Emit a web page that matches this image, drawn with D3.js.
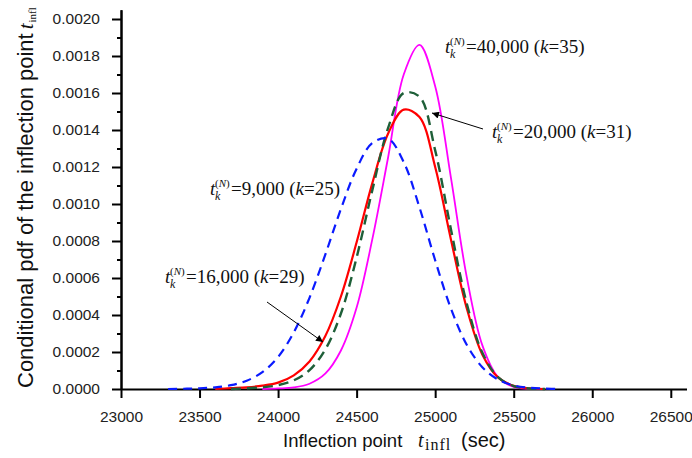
<!DOCTYPE html>
<html>
<head>
<meta charset="utf-8">
<script src="https://cdn.jsdelivr.net/npm/d3@7"></script>
<style>
  body { margin: 0; background: #fff; }
  svg { display: block; }
</style>
</head>
<body>
<div id="chart"></div>
<script>
// inflection point pdfs
const xVals = [23300, 23400, 23500, 23600, 23700, 23800, 23900, 24000, 24100, 24200,
               24300, 24400, 24500, 24600, 24700, 24800, 24900, 25000, 25100, 25200,
               25300, 25400, 25500, 25600, 25700, 25800];
const pdf9000  = [0, 0.0000014, 0.0000037, 0.000009, 0.0000206, 0.0000448, 0.000091, 0.000173, 0.000306, 0.000493,
                  0.000725, 0.000973, 0.001191, 0.00133, 0.001353, 0.001226, 0.000982, 0.000696, 0.000436, 0.000241,
                  0.000118, 0.000051, 0.0000196, 0.0000066, 0.000002, 0];
const pdf16000 = [0, 0, 0, 0, 0.0000045, 0.000009, 0.0000178, 0.0000347, 0.000074, 0.000149,
                  0.000285, 0.0005, 0.000793, 0.001113, 0.00138, 0.00151, 0.00147, 0.0012, 0.00081, 0.00044,
                  0.000187, 0.000063, 0.000017, 0.0000035, 0, 0];
const pdf20000 = [0, 0, 0, 0, 0, 0.000004, 0.0000091, 0.000021, 0.000047, 0.000102,
                  0.000213, 0.000408, 0.000711, 0.001075, 0.00141, 0.0016, 0.00158, 0.00129, 0.000865, 0.000466,
                  0.000197, 0.000064, 0.000016, 0.000003, 0, 0];
const pdf40000 = [0, 0, 0, 0, 0, 0, 0, 0.000003, 0.0000086, 0.0000285,
                  0.0000826, 0.000208, 0.00044, 0.00081, 0.00125, 0.0017, 0.00186, 0.001637, 0.001144, 0.00061,
                  0.000237, 0.000064, 0.0000115, 0.000001, 0, 0];
const xTicks = [23000, 23500, 24000, 24500, 25000, 25500, 26000, 26500];
const yTicks = [0, 0.0002, 0.0004, 0.0006, 0.0008, 0.0010, 0.0012, 0.0014, 0.0016, 0.0018, 0.0020];

const W = 692, H = 458;
const margin = {top: 10, right: 5, bottom: 69, left: 121};

const svg = d3.select("#chart").append("svg")
    .attr("width", W)
    .attr("height", H);

const x = d3.scaleLinear().domain([23000, 26600]).range([margin.left, 686.5]);
const y = d3.scaleLinear().domain([0, 0.00205]).range([389, 389 - 0.00205 * 185000]);

// axes
const xAxis = svg.append("g")
    .attr("transform", "translate(0,389)")
    .call(d3.axisBottom(x).tickValues(xTicks).tickFormat(d3.format("d")).tickSize(9).tickSizeOuter(0).tickPadding(12));
const yMinor = svg.append("g")
    .attr("transform", "translate(" + margin.left + ",0)")
    .call(d3.axisLeft(y).tickValues(d3.range(0.0001, 0.0020, 0.0002)).tickSize(4).tickSizeOuter(0).tickFormat(""));
const yAxis = svg.append("g")
    .attr("transform", "translate(" + margin.left + ",0)")
    .call(d3.axisLeft(y).tickValues(yTicks).tickFormat(d3.format(".4f")).tickSize(9).tickSizeOuter(0).tickPadding(12));

[xAxis, yAxis, yMinor].forEach(g => {
  g.select(".domain").attr("stroke", "#000").attr("stroke-width", 2);
  g.selectAll(".tick line").attr("stroke", "#000").attr("stroke-width", 2);
  g.selectAll(".tick text")
    .attr("fill", "#222")
    .style("font-family", "'Liberation Sans', Arial, sans-serif")
    .style("font-size", "15.5px");
});
xAxis.selectAll(".tick text").attr("dy", "0.75em");

// curves
function trimmed(arr) {
  // drop the flat zero run at both ends so the curve starts where it rises
  let first = arr.findIndex(v => v > 0);
  let last = arr.length - 1 - [...arr].reverse().findIndex(v => v > 0);
  return arr.map((v, i) => (i >= first - 1 && i <= last + 1) ? v : null);
}
const line = d3.line()
    .defined(d => d !== null)
    .x((d, i) => x(xVals[i]))
    .y(d => y(Math.max(0, d)))
    .curve(d3.curveCatmullRom.alpha(0.5));

svg.append("path").datum(trimmed(pdf40000))
    .attr("d", line).attr("fill", "none")
    .attr("stroke", "#ff00ff").attr("stroke-width", 1.8);
svg.append("path").datum(trimmed(pdf16000))
    .attr("d", line).attr("fill", "none")
    .attr("stroke", "#ff0000").attr("stroke-width", 2.2);
svg.append("path").datum(trimmed(pdf20000))
    .attr("d", line).attr("fill", "none")
    .attr("stroke", "#1e5f38").attr("stroke-width", 2.4)
    .attr("stroke-dasharray", "10,6");
svg.append("path").datum(trimmed(pdf9000))
    .attr("d", line).attr("fill", "none")
    .attr("stroke", "#0a1aff").attr("stroke-width", 2.2)
    .attr("stroke-dasharray", "9,6");

// axis titles
const sans = "'Liberation Sans', Arial, sans-serif";
const serif = "'Liberation Serif', 'Times New Roman', serif";

const xt = svg.append("g").attr("fill", "#111");
xt.append("text").attr("x", 283).attr("y", 447)
    .style("font-family", sans).style("font-size", "18.5px").text("Inflection point");
xt.append("text").attr("x", 418).attr("y", 447)
    .style("font-family", serif).style("font-style", "italic").style("font-size", "20px").text("t");
xt.append("text").attr("x", 425).attr("y", 450)
    .style("font-family", serif).style("font-size", "16px").style("letter-spacing", "1px").text("infl");
xt.append("text").attr("x", 461).attr("y", 447)
    .style("font-family", sans).style("font-size", "20px").text("(sec)");

const yTitle = svg.append("text")
    .attr("transform", "translate(33,388) rotate(-90)")
    .style("font-family", sans).style("font-size", "22px").attr("fill", "#111");
yTitle.append("tspan").text("Conditional pdf of the inflection point");
yTitle.append("tspan").text("t").attr("dx", 4).style("font-family", serif).style("font-style", "italic").style("font-size", "21px");
yTitle.append("tspan").text("infl").style("font-family", serif).style("font-size", "11px").attr("dx", 1).attr("dy", 3);

// annotations
function note(x0, y0, num, k) {
  const g = svg.append("g").style("font-family", serif).attr("fill", "#111");
  g.append("text").attr("x", x0).attr("y", y0).style("font-size", "19px").style("font-style", "italic").text("t");
  g.append("text").attr("x", x0 + 5).attr("y", y0 + 5).style("font-size", "12px").style("font-style", "italic").text("k");
  const sup = g.append("text").attr("x", x0 + 5).attr("y", y0 - 8).style("font-size", "11px");
  sup.append("tspan").text("(");
  sup.append("tspan").text("N").style("font-style", "italic");
  sup.append("tspan").text(")");
  const t = g.append("text").attr("x", x0 + 21).attr("y", y0).style("font-size", "19px");
  t.append("tspan").text("=" + num + " (");
  t.append("tspan").text("k").style("font-style", "italic");
  t.append("tspan").text("=" + k + ")");
}
note(445, 53, "40,000", 35);
note(492, 138, "20,000", 31);
note(210, 195, "9,000", 25);
note(165, 283, "16,000", 29);

// arrows
svg.append("defs").append("marker")
    .attr("id", "head").attr("viewBox", "0 0 10 10")
    .attr("refX", 10).attr("refY", 5)
    .attr("markerWidth", 10).attr("markerHeight", 7)
    .attr("markerUnits", "userSpaceOnUse")
    .attr("orient", "auto")
  .append("path").attr("d", "M0,0 L10,5 L0,10 Z").attr("fill", "#000");

const arrows = [[483, 129, 432, 113], [267, 302, 323, 342]];
arrows.forEach(a => {
  svg.append("line")
    .attr("x1", a[0]).attr("y1", a[1]).attr("x2", a[2]).attr("y2", a[3])
    .attr("stroke", "#000").attr("stroke-width", 1)
    .attr("marker-end", "url(#head)");
});
</script>
</body>
</html>
